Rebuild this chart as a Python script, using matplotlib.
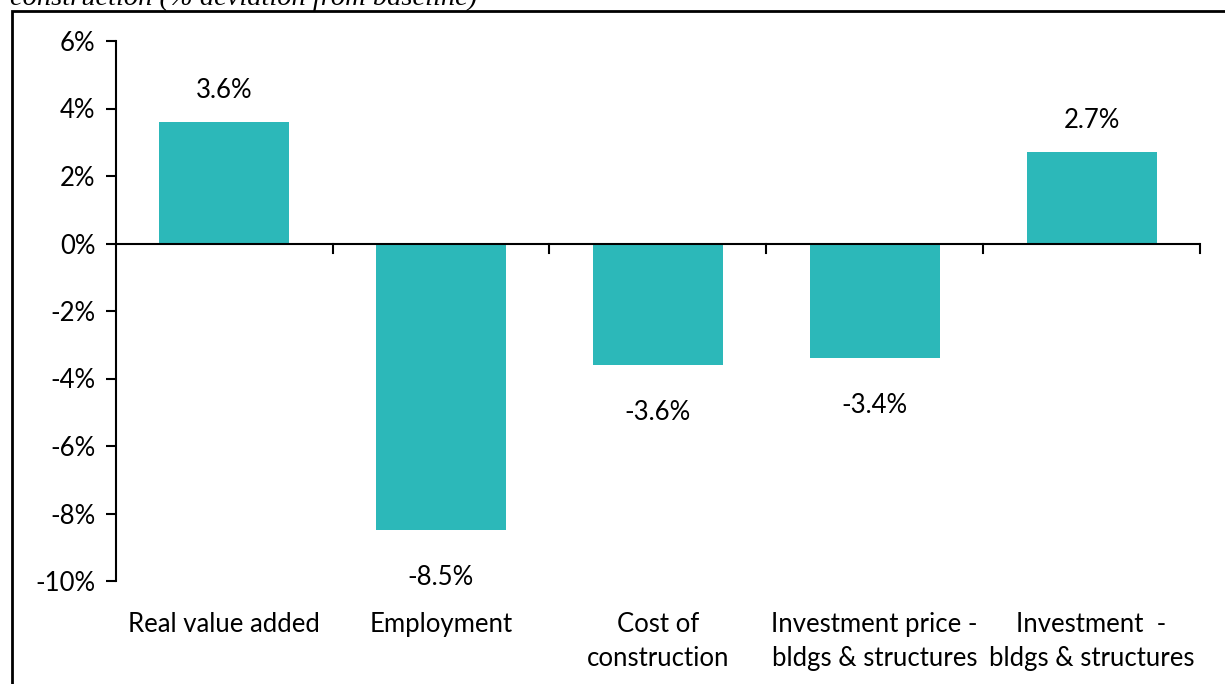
import matplotlib
matplotlib.use("Agg")
import matplotlib.pyplot as plt
from matplotlib.patches import Rectangle

categories = ["Real value added", "Employment", "Cost of\nconstruction",
              "Investment price -\nbldgs & structures", "Investment  -\nbldgs & structures"]
values = [3.6, -8.5, -3.6, -3.4, 2.7]
yticks = [6, 4, 2, 0, -2, -4, -6, -8, -10]
title = "construction (% deviation from baseline)"

bar_color = "#2CB8B9"
font = "Lato"
fs = 18.5

W, H = 1225, 684
fig = plt.figure(figsize=(W/100, H/100), dpi=100)
ax = fig.add_axes([115.7/W, 1-581/H, (1200-115.7)/W, (581-41)/H])

x = list(range(len(categories)))
ax.bar(x, values, width=0.6, color=bar_color, zorder=2)
ax.set_xlim(-0.5, len(categories)-0.5)
ax.set_ylim(-10, 6)
ax.set_yticks(yticks)
ax.set_yticklabels([f"{t}%" for t in yticks], fontfamily=font, fontsize=fs)
ax.tick_params(axis="y", direction="out", length=7.5, width=1.5, pad=7)

for s in ["top", "right", "bottom"]:
    ax.spines[s].set_visible(False)
ax.spines["left"].set_linewidth(1.5)

# zero line with category boundary ticks
ax.axhline(0, color="black", lw=1.5, zorder=3)
ax.set_xticks([])
for b in [i + 0.5 for i in x]:
    ax.plot([b, b], [0, -0.27], color="black", lw=1.5, zorder=3, clip_on=False)

for xi, v in zip(x, values):
    off = 23 if v >= 0 else -34
    ax.annotate(f"{v:.1f}%", (xi, v), xytext=(0, off), textcoords="offset points",
                ha="center", va="center", fontfamily=font, fontsize=fs)

for xi, c in zip(x, categories):
    ax.text(xi, -0.057, c, ha="center", va="top", fontfamily=font, fontsize=fs,
            linespacing=1.47, transform=ax.get_xaxis_transform())

fig.text(10/W, 1-5/H, title, ha="left", va="baseline",
         fontfamily="Liberation Serif", style="italic", fontsize=20.5)

fig.patches.append(Rectangle((12/W, -0.1), 1.2, 1-11/H+0.1, transform=fig.transFigure,
                             fill=False, edgecolor="black", lw=2))

fig.savefig("out.png", dpi=100)
